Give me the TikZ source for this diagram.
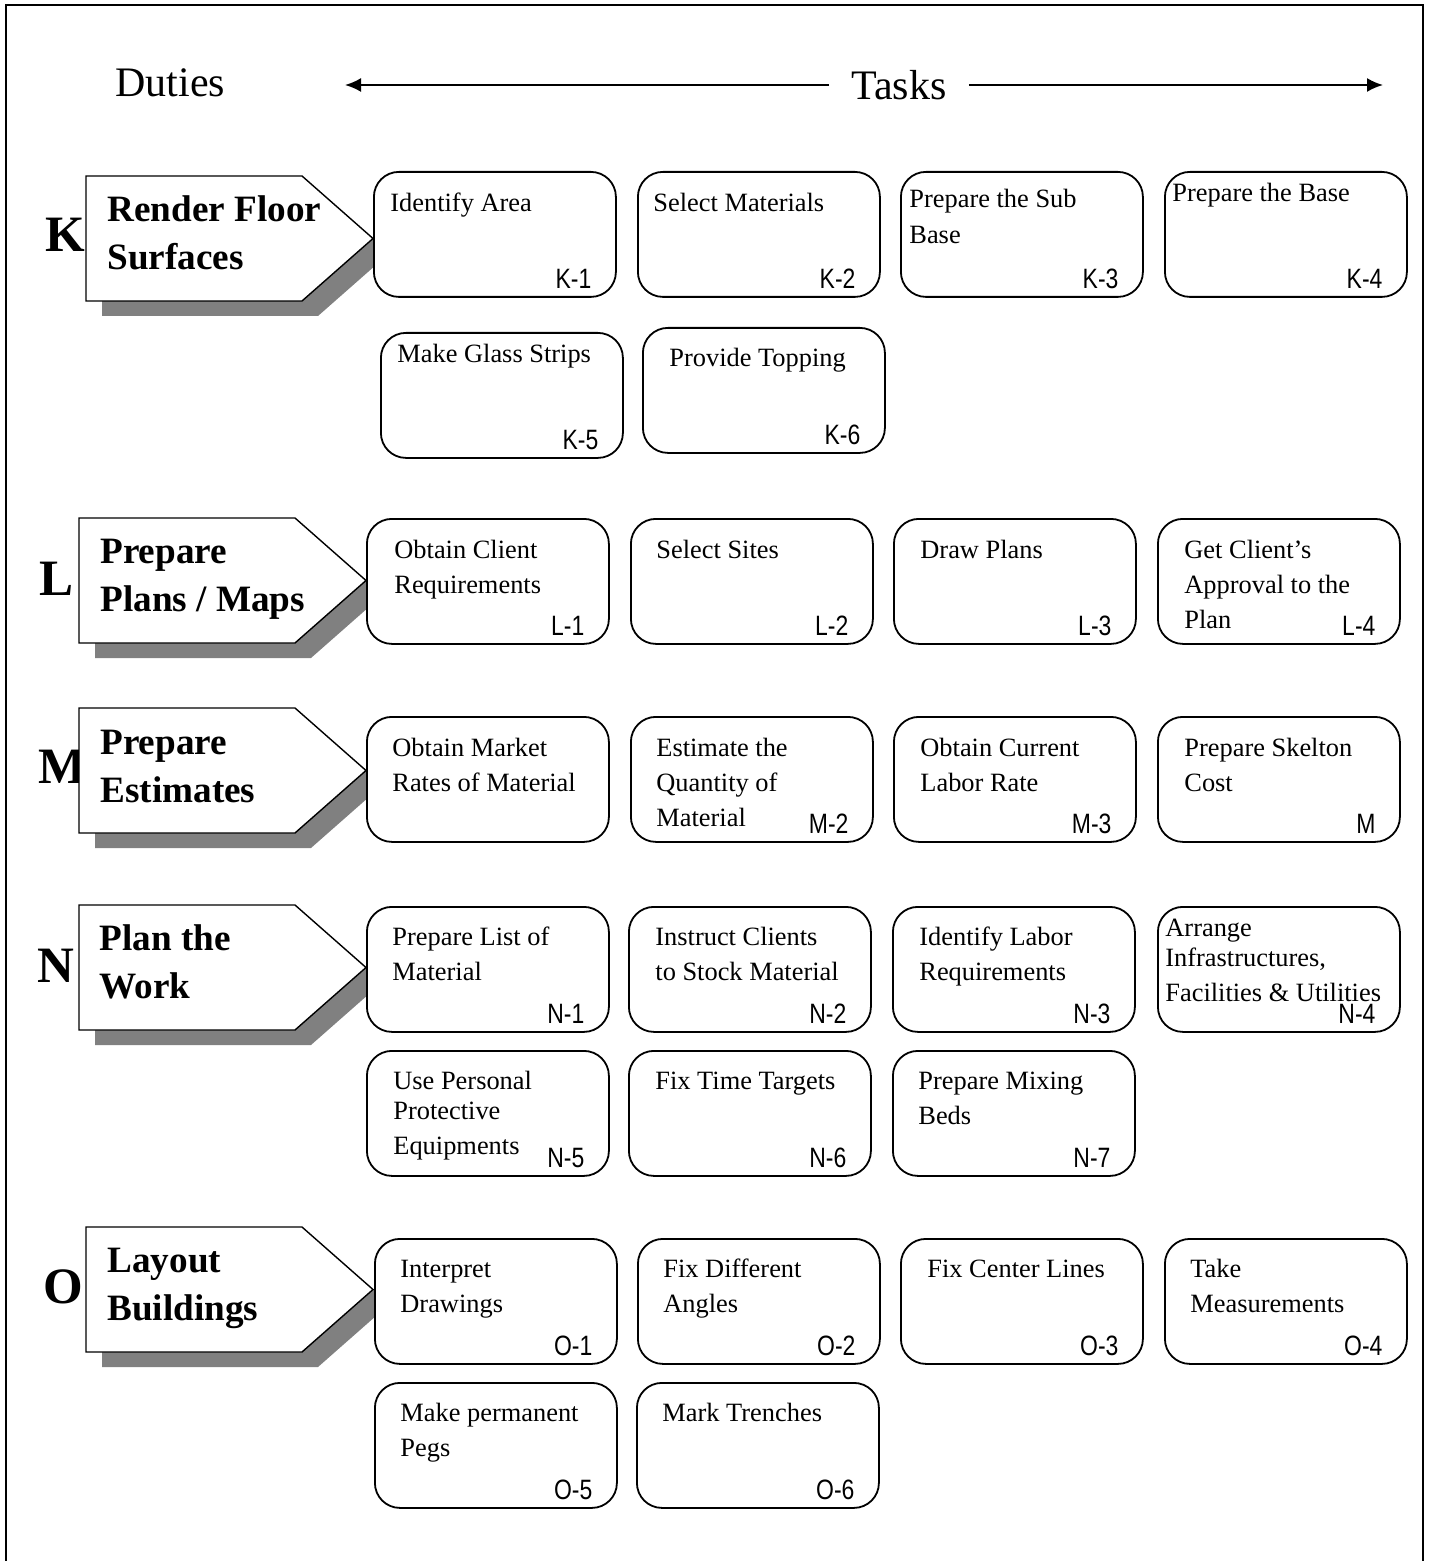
\documentclass[tikz,border=0pt]{standalone}
\usepackage{fontspec}
\setmainfont{Liberation Serif}
\newfontfamily\codefont[FakeStretch=0.82]{Liberation Sans}
\usetikzlibrary{arrows.meta, calc}

\tikzset{
    task/.style={draw, fill=white, line width=0.9pt, rounded corners=12.5pt,
        minimum width=121pt, minimum height=62.5pt, anchor=north west, inner sep=0pt},
    tasktxt/.style={anchor=base west, inner sep=0pt, text width=120pt, align=flush left,
        font=\fontsize{13.2}{17.6}\selectfont},
    taskcode/.style={anchor=base east, inner sep=0pt, font=\codefont\fontsize{14}{14}\selectfont},
    dutytxt/.style={anchor=base west, inner sep=0pt, text width=118pt, align=flush left,
        font=\bfseries\fontsize{18.6}{24}\selectfont},
    dutyletter/.style={anchor=base west, inner sep=0pt, font=\bfseries\fontsize{25.5}{25.5}\selectfont},
    head/.style={inner sep=0pt, font=\fontsize{21}{21}\selectfont},
    dutybox/.style={draw, fill=white, line width=0.7pt},
}

\newcommand{\tightlines}{\fontsize{13.2}{15.3}\selectfont}
% name, x, y, text offset x, text offset y, text, code
\newcommand{\taskbox}[7]{%
    \node[task] (#1) at (#2,#3) {};
    \node[tasktxt] (#1-t) at ([shift={(#4,#5)}]#1.north west) {#6};
    \node[taskcode] (#1-c) at ([shift={(-25,-9)}]#1.south east) {#7};
}

\begin{document}
\begin{tikzpicture}[x=0.5pt, y=-0.5pt]
        \useasboundingbox (0,0) rectangle (1429,1561);
        \draw[line width=1.2pt] (6,1561) -- (6,5) -- (1423,5) -- (1423,1561);

        % heading
        \node[head, anchor=base west] (duties) at (115,97) {Duties};
        \node[head, inner xsep=11pt] (tasks) at (899,85) {Tasks};
        \coordinate (lend) at (345,85);
        \coordinate (rend) at (1383,85);
        \draw[line width=1pt, -{Latex[length=8pt,width=7pt]}] (tasks.west) -- (lend);
        \draw[line width=1pt, -{Latex[length=8pt,width=7pt]}] (tasks.east) -- (rend);

        % duty letters
        \node[dutyletter] (kl) at (45,252) {K};
        \node[dutyletter] (ll) at (39,595) {L};
        \node[dutyletter] (ml) at (38,783) {M};
        \node[dutyletter] (nl) at (37,982) {N};
        \node[dutyletter] (ol) at (43,1303) {O};

        % duty arrows with shadow
        \foreach \x/\y in {86/176, 79/518, 79/708, 79/905, 86/1227}{
            \fill[gray] (\x+16,\y+125) -- ++(0,15) -- ++(216,0) -- ++(71,-62.5)
                -- ++(-16,-15) -- cycle;
            \draw[dutybox] (\x,\y) -- ++(216,0) -- ++(71,62.5) -- ++(-71,62.5)
                -- ++(-216,0) -- cycle;
        }
        \node[dutytxt] (kd) at (107,222) {Render Floor\\Surfaces};
        \node[dutytxt] (ld) at (100,563) {Prepare\\Plans / Maps};
        \node[dutytxt] (md) at (100,754) {Prepare\\Estimates};
        \node[dutytxt] (nd) at (99,950) {Plan the\\Work};
        \node[dutytxt] (od) at (107,1272) {Layout\\Buildings};

        % K
        \taskbox{k1}{373}{171}{17}{41}{Identify Area}{K-1}
        \taskbox{k2}{637}{171}{16}{41}{Select Materials}{K-2}
        \taskbox{k3}{900}{171}{9}{37}{Prepare the Sub\\Base}{K-3}
        \taskbox{k4}{1164}{171}{8}{31}{Prepare the Base}{K-4}
        \taskbox{k5}{380}{332}{17}{31}{Make Glass Strips}{K-5}
        \taskbox{k6}{642}{327}{27}{40}{Provide Topping}{K-6}

        % L
        \taskbox{l1}{366}{518}{28}{40}{Obtain Client\\Requirements}{L-1}
        \taskbox{l2}{630}{518}{26}{40}{Select Sites}{L-2}
        \taskbox{l3}{893}{518}{27}{40}{Draw Plans}{L-3}
        \taskbox{l4}{1157}{518}{27}{40}{Get Client’s\\Approval to the\\Plan}{L-4}

        % M
        \taskbox{m1}{366}{716}{26}{40}{Obtain Market\\Rates of Material}{}
        \taskbox{m2}{630}{716}{26}{40}{Estimate the\\Quantity of\\Material}{M-2}
        \taskbox{m3}{893}{716}{27}{40}{Obtain Current\\Labor Rate}{M-3}
        \taskbox{m4}{1157}{716}{27}{40}{Prepare Skelton\\Cost}{M}

        % N
        \taskbox{n1}{366}{906}{26}{39}{Prepare List of\\Material}{N-1}
        \taskbox{n2}{628}{906}{27}{39}{Instruct Clients\\to Stock Material}{N-2}
        \taskbox{n3}{892}{906}{27}{39}{Identify Labor\\Requirements}{N-3}
        \taskbox{n4}{1157}{906}{8}{30}{\tightlines Arrange\\Infrastructures,\\Facilities \& Utilities}{N-4}
        \taskbox{n5}{366}{1050}{27}{39}{\tightlines Use Personal\\Protective\\Equipments}{N-5}
        \taskbox{n6}{628}{1050}{27}{39}{Fix Time Targets}{N-6}
        \taskbox{n7}{892}{1050}{26}{39}{Prepare Mixing\\Beds}{N-7}

        % O
        \taskbox{o1}{374}{1238}{26}{39}{Interpret\\Drawings}{O-1}
        \taskbox{o2}{637}{1238}{26}{39}{Fix Different\\Angles}{O-2}
        \taskbox{o3}{900}{1238}{27}{39}{Fix Center Lines}{O-3}
        \taskbox{o4}{1164}{1238}{26}{39}{Take\\Measurements}{O-4}
        \taskbox{o5}{374}{1382}{26}{39}{Make permanent\\Pegs}{O-5}
        \taskbox{o6}{636}{1382}{26}{39}{Mark Trenches}{O-6}
\end{tikzpicture}
\end{document}
